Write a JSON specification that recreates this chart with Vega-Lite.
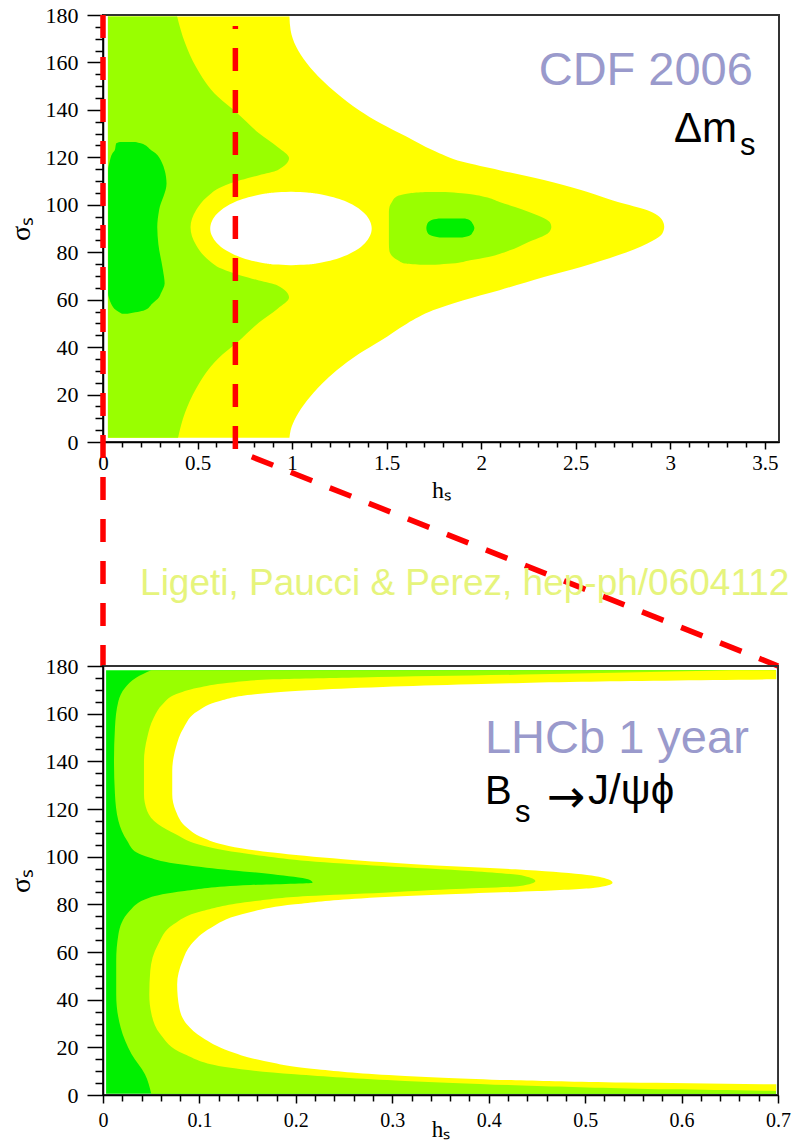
{
  "$schema": "https://vega.github.io/schema/vega-lite/v6.json",
  "background": "white",
  "padding": {"left": 6, "top": 3, "right": 0, "bottom": 0},
  "spacing": 224,
  "bounds": "flush",
  "datasets": {
    "topYellow": [
      {"s": 179.4, "h": 0.026, "h2": 0.986}, {"s": 173.7, "h": 0.026, "h2": 0.992}, {"s": 166.7, "h": 0.026, "h2": 1.021},
      {"s": 159.6, "h": 0.026, "h2": 1.079}, {"s": 152.6, "h": 0.026, "h2": 1.158}, {"s": 147.0, "h": 0.026, "h2": 1.236},
      {"s": 139.9, "h": 0.026, "h2": 1.354}, {"s": 134.3, "h": 0.026, "h2": 1.470}, {"s": 128.7, "h": 0.026, "h2": 1.607},
      {"s": 123.0, "h": 0.026, "h2": 1.745}, {"s": 118.1, "h": 0.026, "h2": 1.902}, {"s": 114.6, "h": 0.026, "h2": 2.097},
      {"s": 110.4, "h": 0.026, "h2": 2.332}, {"s": 106.2, "h": 0.026, "h2": 2.528}, {"s": 101.2, "h": 0.026, "h2": 2.723},
      {"s": 97.7, "h": 0.026, "h2": 2.879}, {"s": 93.5, "h": 0.026, "h2": 2.958}, {"s": 90.7, "h": 0.026, "h2": 2.968},
      {"s": 87.9, "h": 0.026, "h2": 2.958}, {"s": 83.7, "h": 0.026, "h2": 2.879}, {"s": 78.7, "h": 0.026, "h2": 2.723},
      {"s": 73.8, "h": 0.026, "h2": 2.528}, {"s": 69.6, "h": 0.026, "h2": 2.332}, {"s": 64.0, "h": 0.026, "h2": 2.097},
      {"s": 59.7, "h": 0.026, "h2": 1.902}, {"s": 55.5, "h": 0.026, "h2": 1.745}, {"s": 49.9, "h": 0.026, "h2": 1.607},
      {"s": 42.8, "h": 0.026, "h2": 1.470}, {"s": 37.2, "h": 0.026, "h2": 1.354}, {"s": 30.2, "h": 0.026, "h2": 1.236},
      {"s": 24.6, "h": 0.026, "h2": 1.158}, {"s": 17.5, "h": 0.026, "h2": 1.079}, {"s": 10.5, "h": 0.026, "h2": 1.021},
      {"s": 4.9, "h": 0.026, "h2": 0.992}, {"s": 1.8, "h": 0.026, "h2": 0.986}
    ],
    "topLightGreen": [
      {"g": "c", "s": 179.4, "h": 0.026, "h2": 0.392}, {"g": "c", "s": 168.2, "h": 0.026, "h2": 0.434},
      {"g": "c", "s": 158.1, "h": 0.026, "h2": 0.492}, {"g": "c", "s": 145.5, "h": 0.026, "h2": 0.608},
      {"g": "c", "s": 138.7, "h": 0.026, "h2": 0.709}, {"g": "c", "s": 130.2, "h": 0.026, "h2": 0.825},
      {"g": "c", "s": 124.3, "h": 0.026, "h2": 0.925}, {"g": "c", "s": 119.7, "h": 0.026, "h2": 0.984},
      {"g": "c", "s": 114.6, "h": 0.026, "h2": 0.923}, {"g": "c", "s": 112.5, "h": 0.026, "h2": 0.825},
      {"g": "c", "s": 110.4, "h": 0.026, "h2": 0.728}, {"g": "c", "s": 107.6, "h": 0.026, "h2": 0.629},
      {"g": "c", "s": 103.3, "h": 0.026, "h2": 0.550}, {"g": "c", "s": 97.7, "h": 0.026, "h2": 0.492},
      {"g": "c", "s": 90.5, "h": 0.026, "h2": 0.463}, {"g": "c", "s": 83.0, "h": 0.026, "h2": 0.492},
      {"g": "c", "s": 77.3, "h": 0.026, "h2": 0.550}, {"g": "c", "s": 73.0, "h": 0.026, "h2": 0.629},
      {"g": "c", "s": 70.2, "h": 0.026, "h2": 0.728}, {"g": "c", "s": 68.1, "h": 0.026, "h2": 0.825},
      {"g": "c", "s": 66.0, "h": 0.026, "h2": 0.923}, {"g": "c", "s": 60.9, "h": 0.026, "h2": 0.984},
      {"g": "c", "s": 56.3, "h": 0.026, "h2": 0.925}, {"g": "c", "s": 50.4, "h": 0.026, "h2": 0.825},
      {"g": "c", "s": 41.9, "h": 0.026, "h2": 0.709}, {"g": "c", "s": 35.1, "h": 0.026, "h2": 0.608},
      {"g": "c", "s": 22.5, "h": 0.026, "h2": 0.492}, {"g": "c", "s": 12.4, "h": 0.026, "h2": 0.434},
      {"g": "c", "s": 1.8, "h": 0.026, "h2": 0.397},
      {"g": "r", "s": 105.4, "h": 1.703, "h2": 1.809}, {"g": "r", "s": 104.9, "h": 1.623, "h2": 1.898},
      {"g": "r", "s": 103.3, "h": 1.549, "h2": 2.020}, {"g": "r", "s": 101.2, "h": 1.528, "h2": 2.097},
      {"g": "r", "s": 99.1, "h": 1.515, "h2": 2.179}, {"g": "r", "s": 97.0, "h": 1.512, "h2": 2.253},
      {"g": "r", "s": 92.8, "h": 1.512, "h2": 2.361}, {"g": "r", "s": 90.6, "h": 1.512, "h2": 2.371},
      {"g": "r", "s": 88.4, "h": 1.512, "h2": 2.359}, {"g": "r", "s": 83.7, "h": 1.512, "h2": 2.234},
      {"g": "r", "s": 80.8, "h": 1.514, "h2": 2.152}, {"g": "r", "s": 78.0, "h": 1.534, "h2": 2.038},
      {"g": "r", "s": 76.6, "h": 1.560, "h2": 1.941}, {"g": "r", "s": 75.2, "h": 1.597, "h2": 1.843},
      {"g": "r", "s": 74.7, "h": 1.676, "h2": 1.756}
    ],
    "topDarkGreen": [
      {"g": "l", "s": 126.5, "h": 0.090, "h2": 0.170}, {"g": "l", "s": 125.9, "h": 0.070, "h2": 0.200},
      {"g": "l", "s": 123.0, "h": 0.062, "h2": 0.255}, {"g": "l", "s": 121.7, "h": 0.050, "h2": 0.278},
      {"g": "l", "s": 118.0, "h": 0.035, "h2": 0.310}, {"g": "l", "s": 114.6, "h": 0.027, "h2": 0.326},
      {"g": "l", "s": 109.0, "h": 0.027, "h2": 0.336}, {"g": "l", "s": 97.9, "h": 0.027, "h2": 0.297},
      {"g": "l", "s": 90.5, "h": 0.027, "h2": 0.287}, {"g": "l", "s": 83.3, "h": 0.027, "h2": 0.293},
      {"g": "l", "s": 72.5, "h": 0.027, "h2": 0.317}, {"g": "l", "s": 66.8, "h": 0.027, "h2": 0.326},
      {"g": "l", "s": 62.5, "h": 0.027, "h2": 0.305}, {"g": "l", "s": 61.1, "h": 0.030, "h2": 0.297},
      {"g": "l", "s": 58.3, "h": 0.043, "h2": 0.260}, {"g": "l", "s": 55.5, "h": 0.070, "h2": 0.219},
      {"g": "l", "s": 54.1, "h": 0.100, "h2": 0.130},
      {"g": "r", "s": 94.2, "h": 1.775, "h2": 1.915}, {"g": "r", "s": 93.5, "h": 1.735, "h2": 1.940},
      {"g": "r", "s": 92.0, "h": 1.715, "h2": 1.955}, {"g": "r", "s": 90.2, "h": 1.710, "h2": 1.964},
      {"g": "r", "s": 88.4, "h": 1.715, "h2": 1.955}, {"g": "r", "s": 87.0, "h": 1.735, "h2": 1.940},
      {"g": "r", "s": 86.2, "h": 1.780, "h2": 1.900}
    ],
    "topWhite": [
      {"s": 105.5, "h": 0.990, "h2": 0.998}, {"s": 105.19, "h": 0.909, "h2": 1.079}, {"s": 104.73, "h": 0.861, "h2": 1.127},
      {"s": 103.95, "h": 0.808, "h2": 1.180}, {"s": 102.4, "h": 0.738, "h2": 1.250}, {"s": 100.85, "h": 0.689, "h2": 1.299},
      {"s": 99.3, "h": 0.652, "h2": 1.336}, {"s": 96.2, "h": 0.603, "h2": 1.385}, {"s": 93.1, "h": 0.576, "h2": 1.412},
      {"s": 90.0, "h": 0.567, "h2": 1.421}, {"s": 86.9, "h": 0.576, "h2": 1.412}, {"s": 83.8, "h": 0.603, "h2": 1.385},
      {"s": 80.7, "h": 0.652, "h2": 1.336}, {"s": 79.15, "h": 0.689, "h2": 1.299}, {"s": 77.6, "h": 0.738, "h2": 1.250},
      {"s": 76.05, "h": 0.808, "h2": 1.180}, {"s": 75.27, "h": 0.861, "h2": 1.127}, {"s": 74.81, "h": 0.909, "h2": 1.079},
      {"s": 74.5, "h": 0.990, "h2": 0.998}
    ],
    "redA": [{"h": 0, "s": 180, "o": 1}, {"h": 0, "s": -94.4, "o": 2}],
    "redB": [{"h": 0.7, "s": 175.4, "o": 1}, {"h": 0.7, "s": -3.5, "o": 2}, {"h": 3.57, "s": -94.4, "o": 3}],
    "botDark": [{"s": 0.56, "h": 0.0032, "h2": 0.698}, {"s": 178.2, "h": 0.0032, "h2": 0.698}],
    "botLight": [
      {"s": 178.2, "h": 0.050, "h2": 0.698}, {"s": 175.1, "h": 0.0343, "h2": 0.698}, {"s": 170.9, "h": 0.0229, "h2": 0.698},
      {"s": 165.3, "h": 0.016, "h2": 0.698}, {"s": 154.1, "h": 0.0124, "h2": 0.698}, {"s": 140.1, "h": 0.0114, "h2": 0.698},
      {"s": 126.2, "h": 0.0124, "h2": 0.698}, {"s": 115.0, "h": 0.016, "h2": 0.698}, {"s": 106.6, "h": 0.0252, "h2": 0.698},
      {"s": 101.7, "h": 0.035, "h2": 0.698}, {"s": 99.6, "h": 0.048, "h2": 0.698}, {"s": 98.2, "h": 0.060, "h2": 0.698},
      {"s": 96.8, "h": 0.080, "h2": 0.698}, {"s": 95.4, "h": 0.1075, "h2": 0.698}, {"s": 92.6, "h": 0.1761, "h2": 0.698},
      {"s": 90.5, "h": 0.2127, "h2": 0.698}, {"s": 89.1, "h": 0.2173, "h2": 0.698}, {"s": 88.1, "h": 0.1533, "h2": 0.698},
      {"s": 85.6, "h": 0.0846, "h2": 0.698}, {"s": 82.8, "h": 0.048, "h2": 0.698}, {"s": 77.2, "h": 0.0275, "h2": 0.698},
      {"s": 67.4, "h": 0.016, "h2": 0.698}, {"s": 56.2, "h": 0.0137, "h2": 0.698}, {"s": 42.2, "h": 0.0137, "h2": 0.698},
      {"s": 28.3, "h": 0.0183, "h2": 0.698}, {"s": 17.1, "h": 0.0297, "h2": 0.698}, {"s": 8.7, "h": 0.0435, "h2": 0.698},
      {"s": 0.56, "h": 0.050, "h2": 0.698}
    ],
    "botYellow": [
      {"s": 178.2, "h": 0.6519, "h2": 0.698}, {"s": 176.5, "h": 0.4506, "h2": 0.698}, {"s": 175.2, "h": 0.2676, "h2": 0.698},
      {"s": 174.4, "h": 0.1761, "h2": 0.698}, {"s": 173.0, "h": 0.1304, "h2": 0.698}, {"s": 170.9, "h": 0.0984, "h2": 0.698},
      {"s": 168.1, "h": 0.0755, "h2": 0.698}, {"s": 163.9, "h": 0.0618, "h2": 0.698}, {"s": 158.3, "h": 0.0526, "h2": 0.698},
      {"s": 149.9, "h": 0.0458, "h2": 0.698}, {"s": 140.1, "h": 0.0425, "h2": 0.698}, {"s": 126.2, "h": 0.0425, "h2": 0.698},
      {"s": 119.2, "h": 0.0458, "h2": 0.698}, {"s": 113.6, "h": 0.0572, "h2": 0.698}, {"s": 109.4, "h": 0.0755, "h2": 0.698},
      {"s": 105.2, "h": 0.0984, "h2": 0.698}, {"s": 102.7, "h": 0.1258, "h2": 0.698}, {"s": 100.3, "h": 0.1670, "h2": 0.698},
      {"s": 98.2, "h": 0.2127, "h2": 0.698}, {"s": 96.1, "h": 0.2905, "h2": 0.698}, {"s": 94.0, "h": 0.3820, "h2": 0.698},
      {"s": 91.9, "h": 0.4369, "h2": 0.698}, {"s": 89.8, "h": 0.4484, "h2": 0.698}, {"s": 87.7, "h": 0.4323, "h2": 0.698},
      {"s": 86.3, "h": 0.3591, "h2": 0.698}, {"s": 84.9, "h": 0.2905, "h2": 0.698}, {"s": 83.5, "h": 0.2127, "h2": 0.698},
      {"s": 81.4, "h": 0.1578, "h2": 0.698}, {"s": 77.2, "h": 0.1029, "h2": 0.698}, {"s": 71.6, "h": 0.0732, "h2": 0.698},
      {"s": 63.2, "h": 0.0572, "h2": 0.698}, {"s": 52.0, "h": 0.0490, "h2": 0.698}, {"s": 42.2, "h": 0.0480, "h2": 0.698},
      {"s": 33.9, "h": 0.0503, "h2": 0.698}, {"s": 25.5, "h": 0.0595, "h2": 0.698}, {"s": 17.1, "h": 0.0846, "h2": 0.698},
      {"s": 11.5, "h": 0.1304, "h2": 0.698}, {"s": 8.7, "h": 0.1990, "h2": 0.698}, {"s": 5.9, "h": 0.3134, "h2": 0.698},
      {"s": 3.8, "h": 0.4506, "h2": 0.698}, {"s": 2.4, "h": 0.5879, "h2": 0.698}, {"s": 1.7, "h": 0.6977, "h2": 0.698}
    ],
    "botWhite": [
      {"s": 174.4, "h": 0.6931, "h2": 0.699}, {"s": 173.4, "h": 0.4964, "h2": 0.699}, {"s": 172.3, "h": 0.3820, "h2": 0.699},
      {"s": 171.2, "h": 0.2905, "h2": 0.699}, {"s": 169.8, "h": 0.2127, "h2": 0.699}, {"s": 168.1, "h": 0.1578, "h2": 0.699},
      {"s": 165.3, "h": 0.1212, "h2": 0.699}, {"s": 161.1, "h": 0.0984, "h2": 0.699}, {"s": 154.1, "h": 0.0837, "h2": 0.699},
      {"s": 145.7, "h": 0.0755, "h2": 0.699}, {"s": 135.9, "h": 0.0718, "h2": 0.699}, {"s": 126.2, "h": 0.0718, "h2": 0.699},
      {"s": 119.2, "h": 0.0755, "h2": 0.699}, {"s": 112.2, "h": 0.0869, "h2": 0.699}, {"s": 108.0, "h": 0.1029, "h2": 0.699},
      {"s": 104.5, "h": 0.1304, "h2": 0.699}, {"s": 101.7, "h": 0.1761, "h2": 0.699}, {"s": 98.9, "h": 0.2493, "h2": 0.699},
      {"s": 96.5, "h": 0.3363, "h2": 0.699}, {"s": 94.7, "h": 0.4278, "h2": 0.699}, {"s": 92.6, "h": 0.4964, "h2": 0.699},
      {"s": 90.5, "h": 0.5238, "h2": 0.699}, {"s": 89.1, "h": 0.5284, "h2": 0.699}, {"s": 87.0, "h": 0.5101, "h2": 0.699},
      {"s": 85.6, "h": 0.4506, "h2": 0.699}, {"s": 84.2, "h": 0.3591, "h2": 0.699}, {"s": 82.5, "h": 0.2676, "h2": 0.699},
      {"s": 80.0, "h": 0.1990, "h2": 0.699}, {"s": 75.8, "h": 0.1441, "h2": 0.699}, {"s": 70.2, "h": 0.1121, "h2": 0.699},
      {"s": 63.2, "h": 0.0915, "h2": 0.699}, {"s": 56.2, "h": 0.0824, "h2": 0.699}, {"s": 46.4, "h": 0.0769, "h2": 0.699},
      {"s": 36.6, "h": 0.0791, "h2": 0.699}, {"s": 29.7, "h": 0.0869, "h2": 0.699}, {"s": 24.1, "h": 0.1029, "h2": 0.699},
      {"s": 18.5, "h": 0.1304, "h2": 0.699}, {"s": 14.3, "h": 0.1670, "h2": 0.699}, {"s": 10.8, "h": 0.2219, "h2": 0.699},
      {"s": 8.0, "h": 0.3134, "h2": 0.699}, {"s": 6.2, "h": 0.4278, "h2": 0.699}, {"s": 5.2, "h": 0.5421, "h2": 0.699},
      {"s": 4.5, "h": 0.6931, "h2": 0.699}
    ]
  },
  "vconcat": [
    {
      "width": 676,
      "height": 427,
      "encoding": {
        "x": {
          "field": "h", "type": "quantitative",
          "scale": {"domain": [0, 3.575], "nice": false, "zero": false},
          "axis": {
            "title": "hₛ",
            "values": [0, 0.1, 0.2, 0.3, 0.4, 0.5, 0.6, 0.7, 0.8, 0.9, 1, 1.1, 1.2, 1.3, 1.4, 1.5, 1.6, 1.7, 1.8, 1.9, 2, 2.1, 2.2, 2.3, 2.4, 2.5, 2.6, 2.7, 2.8, 2.9, 3, 3.1, 3.2, 3.3, 3.4, 3.5],
            "labelExpr": "abs(datum.value*2 - round(datum.value*2)) < 0.000001 ? format(datum.value, '~g') : ''",
            "tickSize": {"condition": {"test": "abs(datum.value*2 - round(datum.value*2)) < 0.000001", "value": 7}, "value": 5},
            "labelFontSize": 21,
            "labelPadding": 3,
            "titleFontSize": 24,
            "titleBaseline": "alphabetic",
            "titleY": 55
          }
        },
        "y": {
          "field": "s", "type": "quantitative",
          "scale": {"domain": [0, 180], "nice": false, "zero": false},
          "axis": {
            "title": "σₛ",
            "values": [0, 5, 10, 15, 20, 25, 30, 35, 40, 45, 50, 55, 60, 65, 70, 75, 80, 85, 90, 95, 100, 105, 110, 115, 120, 125, 130, 135, 140, 145, 150, 155, 160, 165, 170, 175, 180],
            "labelExpr": "datum.value % 20 === 0 ? '' + datum.value : ''",
            "tickSize": {"condition": {"test": "datum.value % 20 === 0", "value": 16}, "value": 8},
            "labelFontSize": 22,
            "labelPadding": 9,
            "titleFontSize": 28,
            "titlePadding": 10
          }
        }
      },
      "layer": [
        {"data": {"name": "topYellow"}, "mark": {"type": "area", "orient": "horizontal", "color": "#ffff00", "interpolate": "monotone"}, "encoding": {"x2": {"field": "h2"}}},
        {"data": {"name": "topLightGreen"}, "mark": {"type": "area", "orient": "horizontal", "color": "#99ff00", "interpolate": "monotone"}, "encoding": {"x2": {"field": "h2"}, "detail": {"field": "g"}}},
        {"data": {"name": "topDarkGreen"}, "mark": {"type": "area", "orient": "horizontal", "color": "#00f000", "interpolate": "monotone"}, "encoding": {"x2": {"field": "h2"}, "detail": {"field": "g"}}},
        {"data": {"name": "topWhite"}, "mark": {"type": "area", "orient": "horizontal", "color": "#ffffff", "interpolate": "monotone"}, "encoding": {"x2": {"field": "h2"}}},
        {"data": {"name": "redA"}, "mark": {"type": "line", "color": "#ff0000", "strokeWidth": 5.5, "strokeDash": [23, 19]}, "encoding": {"order": {"field": "o"}}},
        {"data": {"name": "redB"}, "mark": {"type": "line", "color": "#ff0000", "strokeWidth": 5.5, "strokeDash": [23, 19], "strokeDashOffset": 20}, "encoding": {"order": {"field": "o"}}},
        {"data": {"values": [{"h": 3.437, "s": 150.5, "t": "CDF 2006"}]}, "mark": {"type": "text", "align": "right", "baseline": "alphabetic", "font": "Liberation Sans", "fontSize": 47, "color": "#9a9acc"}, "encoding": {"text": {"field": "t"}}},
        {"data": {"values": [{"h": 3.353, "s": 126.5, "t": "Δm"}]}, "mark": {"type": "text", "align": "right", "baseline": "alphabetic", "font": "Liberation Sans", "fontSize": 42, "color": "#000000"}, "encoding": {"text": {"field": "t"}}},
        {"data": {"values": [{"h": 3.369, "s": 121.0, "t": "s"}]}, "mark": {"type": "text", "align": "left", "baseline": "alphabetic", "font": "Liberation Sans", "fontSize": 31, "color": "#000000"}, "encoding": {"text": {"field": "t"}}},
        {"data": {"values": [{"h": 0.196, "s": -64.5, "t": "Ligeti, Paucci & Perez, hep-ph/0604112"}]}, "mark": {"type": "text", "align": "left", "baseline": "alphabetic", "font": "Liberation Sans", "fontSize": 37, "color": "#e6f47c"}, "encoding": {"text": {"field": "t"}}}
      ]
    },
    {
      "width": 675,
      "height": 429,
      "encoding": {
        "x": {
          "field": "h", "type": "quantitative",
          "scale": {"domain": [0, 0.7], "nice": false, "zero": false},
          "axis": {
            "title": "hₛ",
            "values": [0, 0.02, 0.04, 0.06, 0.08, 0.1, 0.12, 0.14, 0.16, 0.18, 0.2, 0.22, 0.24, 0.26, 0.28, 0.3, 0.32, 0.34, 0.36, 0.38, 0.4, 0.42, 0.44, 0.46, 0.48, 0.5, 0.52, 0.54, 0.56, 0.58, 0.6, 0.62, 0.64, 0.66, 0.68, 0.7],
            "labelExpr": "abs(datum.value*10 - round(datum.value*10)) < 0.000001 ? format(datum.value, '~g') : ''",
            "tickSize": {"condition": {"test": "abs(datum.value*10 - round(datum.value*10)) < 0.000001", "value": 8}, "value": 6},
            "labelFontSize": 20,
            "labelPadding": 7,
            "titleFontSize": 23,
            "titleBaseline": "alphabetic",
            "titleY": 41
          }
        },
        "y": {
          "field": "s", "type": "quantitative",
          "scale": {"domain": [0, 180], "nice": false, "zero": false},
          "axis": {
            "title": "σₛ",
            "values": [0, 5, 10, 15, 20, 25, 30, 35, 40, 45, 50, 55, 60, 65, 70, 75, 80, 85, 90, 95, 100, 105, 110, 115, 120, 125, 130, 135, 140, 145, 150, 155, 160, 165, 170, 175, 180],
            "labelExpr": "datum.value % 20 === 0 ? '' + datum.value : ''",
            "tickSize": {"condition": {"test": "datum.value % 20 === 0", "value": 16}, "value": 8},
            "labelFontSize": 22,
            "labelPadding": 9,
            "titleFontSize": 28,
            "titlePadding": 10
          }
        }
      },
      "layer": [
        {"data": {"name": "botDark"}, "mark": {"type": "area", "orient": "horizontal", "color": "#00f000"}, "encoding": {"x2": {"field": "h2"}}},
        {"data": {"name": "botLight"}, "mark": {"type": "area", "orient": "horizontal", "color": "#99ff00", "interpolate": "monotone"}, "encoding": {"x2": {"field": "h2"}}},
        {"data": {"name": "botYellow"}, "mark": {"type": "area", "orient": "horizontal", "color": "#ffff00", "interpolate": "monotone"}, "encoding": {"x2": {"field": "h2"}}},
        {"data": {"name": "botWhite"}, "mark": {"type": "area", "orient": "horizontal", "color": "#ffffff", "interpolate": "monotone"}, "encoding": {"x2": {"field": "h2"}}},
        {"data": {"values": [{"h": 0.3961, "s": 143.5, "t": "LHCb 1 year"}]}, "mark": {"type": "text", "align": "left", "baseline": "alphabetic", "font": "Liberation Sans", "fontSize": 47, "color": "#9a9acc"}, "encoding": {"text": {"field": "t"}}},
        {"data": {"values": [{"h": 0.3961, "s": 122.1, "t": "B"}]}, "mark": {"type": "text", "align": "left", "baseline": "alphabetic", "font": "Liberation Sans", "fontSize": 40, "color": "#000000"}, "encoding": {"text": {"field": "t"}}},
        {"data": {"values": [{"h": 0.4273, "s": 114.6, "t": "s"}]}, "mark": {"type": "text", "align": "left", "baseline": "alphabetic", "font": "Liberation Sans", "fontSize": 31, "color": "#000000"}, "encoding": {"text": {"field": "t"}}},
        {"data": {"values": [{"h": 0.4604, "s": 118.8, "t": "→"}]}, "mark": {"type": "text", "align": "left", "baseline": "alphabetic", "font": "DejaVu Sans", "fontSize": 46, "color": "#000000"}, "encoding": {"text": {"field": "t"}}},
        {"data": {"values": [{"h": 0.503, "s": 122.1, "t": "J/ψϕ"}]}, "mark": {"type": "text", "align": "left", "baseline": "alphabetic", "font": "Liberation Sans", "fontSize": 42, "color": "#000000"}, "encoding": {"text": {"field": "t"}}}
      ]
    }
  ],
  "config": {
    "view": {"stroke": "#333333", "strokeWidth": 2},
    "axis": {
      "grid": false,
      "domainColor": "#000000", "domainWidth": 1.5,
      "tickColor": "#000000", "tickWidth": 1.5,
      "labelFont": "Times New Roman, Liberation Serif, serif", "labelColor": "#000000",
      "titleFont": "Times New Roman, Liberation Serif, serif", "titleFontWeight": "normal", "titleColor": "#000000",
      "labelOverlap": false, "labelFlush": false, "labelBound": false
    }
  }
}
